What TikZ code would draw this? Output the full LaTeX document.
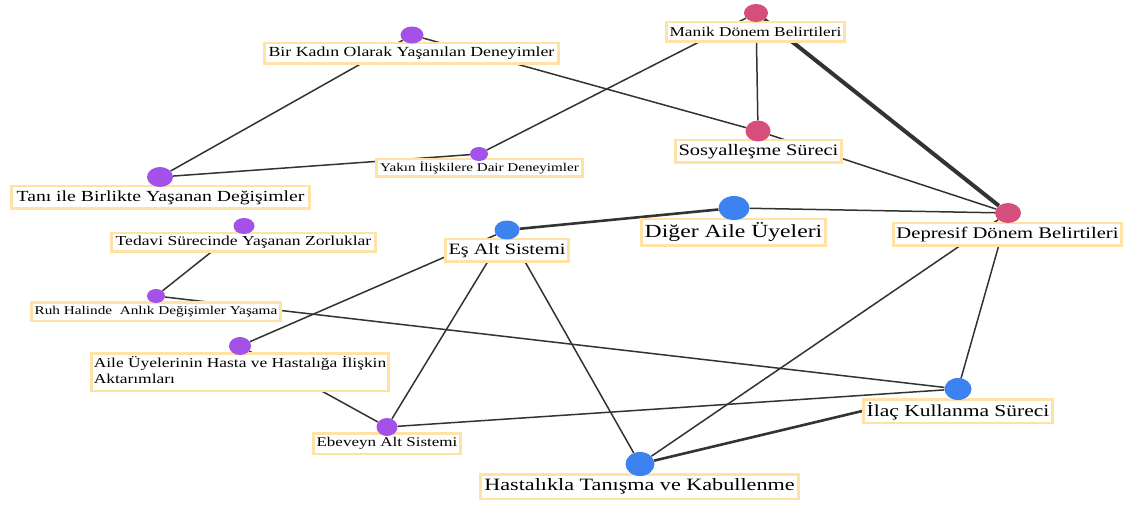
\documentclass[tikz,border=0pt]{standalone}
\usepackage{fontspec}
\setmainfont{Liberation Serif}
\usetikzlibrary{shapes.geometric,backgrounds}

\definecolor{kodmor}{HTML}{A451EA}
\definecolor{kodpembe}{HTML}{D54E7C}
\definecolor{kodmavi}{HTML}{3C82F1}
\definecolor{etiketcerceve}{HTML}{FFE3A6}
\definecolor{baglanti}{HTML}{333333}

% metni yatayda biraz genişlet
\newcommand{\genis}[1]{\scalebox{1.28}[1]{#1}}

\begin{document}
\begin{tikzpicture}[
	x=1pt, y=-1pt,
	etiket/.style={
		draw=etiketcerceve,
		line width=2.5pt,
		fill=white,
		inner sep=0pt,
		align=center,
	},
	nokta/.style={
		ellipse,
		inner sep=0pt,
		draw=none,
	},
	mor/.style={nokta, fill=kodmor},
	pembe/.style={nokta, fill=kodpembe},
	mavi/.style={nokta, fill=kodmavi},
	bag/.style={draw=baglanti, line width=1.5pt},
	kalin/.style={draw=baglanti, line width=2.6pt},
	enkalin/.style={draw=baglanti, line width=4pt},
]

\useasboundingbox (0,0) rectangle (1133,505);

% --- Etiketler ---
\node[etiket, minimum width=294pt, minimum height=20.5pt, font=\fontsize{13.9}{16}\selectfont] (lKadin) at (411.5,53.5) {\genis{Bir Kadın Olarak Yaşanılan Deneyimler}};
\node[etiket, minimum width=178pt, minimum height=19.5pt, font=\fontsize{13.5}{16}\selectfont] (lManik) at (755.5,32) {\genis{Manik Dönem Belirtileri}};
\node[etiket, minimum width=206pt, minimum height=17.5pt, font=\fontsize{11.8}{14}\selectfont] (lYakin) at (479.5,168) {\genis{Yakın İlişkilere Dair Deneyimler}};
\node[etiket, minimum width=166pt, minimum height=22.5pt, font=\fontsize{16}{19}\selectfont] (lSosyal) at (758.5,151.5) {\genis{Sosyalleşme Süreci}};
\node[etiket, minimum width=298pt, minimum height=22.5pt, font=\fontsize{15.4}{18}\selectfont] (lTani) at (160.5,197.5) {\genis{Tanı ile Birlikte Yaşanan Değişimler}};
\node[etiket, minimum width=264pt, minimum height=18.5pt, font=\fontsize{13.7}{16}\selectfont] (lTedavi) at (243.5,242.5) {\genis{Tedavi Sürecinde Yaşanan Zorluklar}};
\node[etiket, minimum width=123pt, minimum height=22.5pt, font=\fontsize{15.8}{19}\selectfont] (lEs) at (507,250.5) {\genis{Eş Alt Sistemi}};
\node[etiket, minimum width=184pt, minimum height=26.5pt, font=\fontsize{18.5}{22}\selectfont] (lDiger) at (733.5,232.5) {\genis{Diğer Aile Üyeleri}};
\node[etiket, minimum width=228pt, minimum height=22.5pt, font=\fontsize{16.1}{19}\selectfont] (lDepresif) at (1007.5,234.5) {\genis{Depresif Dönem Belirtileri}};
\node[etiket, minimum width=249pt, minimum height=18.5pt, font=\fontsize{11.9}{14}\selectfont] (lRuh) at (156,311.5) {\genis{Ruh Halinde~ Anlık Değişimler Yaşama}};
\node[etiket, minimum width=297pt, minimum height=37.5pt, font=\fontsize{13.6}{16.5}\selectfont] (lAktarim) at (240,372) {\genis{\begin{tabular}{@{}l@{}}Aile Üyelerinin Hasta ve Hastalığa İlişkin\\Aktarımları\end{tabular}}};
\node[etiket, minimum width=147pt, minimum height=20.5pt, font=\fontsize{13.3}{16}\selectfont] (lEbeveyn) at (387,443.5) {\genis{Ebeveyn Alt Sistemi}};
\node[etiket, minimum width=189pt, minimum height=23.5pt, font=\fontsize{16.8}{20}\selectfont] (lIlac) at (958,411) {\genis{İlaç Kullanma Süreci}};
\node[etiket, minimum width=318pt, minimum height=24.5pt, font=\fontsize{17.3}{20}\selectfont] (lHastalik) at (639.5,486.5) {\genis{Hastalıkla Tanışma ve Kabullenme}};

% --- Kod noktaları ---
\node[mor, minimum width=23pt, minimum height=17pt] (kadin) at (412,35) {};
\node[pembe, minimum width=24pt, minimum height=18pt] (manik) at (756,13) {};
\node[mor, minimum width=18pt, minimum height=14pt] (yakin) at (479,154) {};
\node[pembe, minimum width=25pt, minimum height=21pt] (sosyal) at (758,131) {};
\node[mor, minimum width=26pt, minimum height=20pt] (tani) at (160,177) {};
\node[mor, minimum width=21pt, minimum height=16pt] (tedavi) at (244,226) {};
\node[mavi, minimum width=25pt, minimum height=19pt] (es) at (507,230) {};
\node[mavi, minimum width=31pt, minimum height=24pt] (diger) at (734,208) {};
\node[pembe, minimum width=26pt, minimum height=20pt] (depresif) at (1008,213) {};
\node[mor, minimum width=18pt, minimum height=14pt] (ruh) at (156,296) {};
\node[mor, minimum width=22pt, minimum height=18pt] (aktarim) at (240,346) {};
\node[mor, minimum width=21pt, minimum height=18pt] (ebeveyn) at (387,427) {};
\node[mavi, minimum width=27pt, minimum height=22pt] (ilac) at (958,389) {};
\node[mavi, minimum width=29pt, minimum height=24pt] (hastalik) at (640,464) {};

% --- Bağlantılar (arka katmanda) ---
\begin{scope}[on background layer]
	\fill[white] (0,0) rectangle (1133,505);
	\draw[bag] (kadin) -- (tani);
	\draw[bag] (kadin) -- (sosyal);
	\draw[bag] (manik) -- (yakin);
	\draw[bag] (manik) -- (sosyal);
	\draw[enkalin] (manik) -- (depresif);
	\draw[bag] (sosyal) -- (depresif);
	\draw[bag] (yakin) -- (tani);
	\draw[kalin] (diger) -- (es);
	\draw[bag] (diger) -- (depresif);
	\draw[bag] (tedavi) -- (ruh);
	\draw[bag] (es) -- (aktarim);
	\draw[bag] (es) -- (ebeveyn);
	\draw[bag] (es) -- (hastalik);
	\draw[bag] (ruh) -- (ilac);
	\draw[bag] (aktarim) -- (ebeveyn);
	\draw[bag] (ebeveyn) -- (ilac);
	\draw[bag] (depresif) -- (hastalik);
	\draw[bag] (depresif) -- (ilac);
	\draw[kalin] (hastalik) -- (lIlac.west);
\end{scope}

\end{tikzpicture}
\end{document}
